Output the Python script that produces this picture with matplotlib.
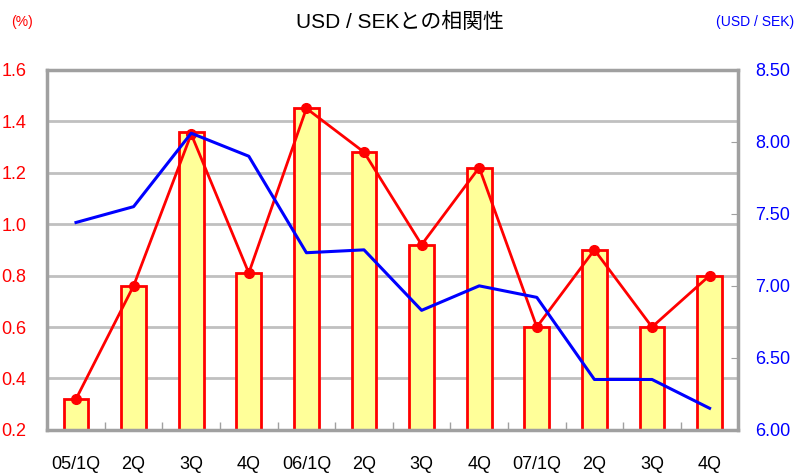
import numpy as np
import matplotlib.pyplot as plt
from matplotlib.ticker import FixedLocator

# ----- Data -----
quarters = ["05/1Q", "2Q", "3Q", "4Q", "06/1Q", "2Q", "3Q", "4Q", "07/1Q", "2Q", "3Q", "4Q"]
bar_pct = [0.32, 0.76, 1.36, 0.81, 1.45, 1.28, 0.92, 1.22, 0.60, 0.90, 0.60, 0.80]
line_pct = [0.32, 0.76, 1.35, 0.81, 1.45, 1.28, 0.92, 1.22, 0.60, 0.90, 0.60, 0.80]
usd_sek = [7.44, 7.55, 8.06, 7.90, 7.23, 7.25, 6.83, 7.00, 6.92, 6.35, 6.35, 6.15]
left_ticks = [0.2, 0.4, 0.6, 0.8, 1.0, 1.2, 1.4, 1.6]
right_ticks = [6.0, 6.5, 7.0, 7.5, 8.0, 8.5]

plt.rcParams['font.family'] = ['Liberation Sans', 'DejaVu Sans']
jp = ['Liberation Sans', 'Noto Sans CJK JP', 'DejaVu Sans']

x = np.arange(len(quarters))

fig = plt.figure(figsize=(8, 4.75), dpi=100)
ax = fig.add_axes([0.059, 0.095, 0.864, 0.758])

ax.bar(x, bar_pct, width=0.43, color='#ffff99', edgecolor='red', linewidth=2, zorder=2)
ax.plot(x, line_pct, color='red', linewidth=2, marker='o', markersize=7, zorder=3)

ax.set_xlim(-0.5, len(quarters) - 0.5)
ax.set_ylim(0.2, 1.6)
ax.set_yticks(left_ticks)
ax.set_yticklabels([f"{v:.1f}" for v in left_ticks], color='red', fontsize=13)
ax.tick_params(axis='y', length=0, pad=15)
ax.yaxis.grid(True, color='#c0c0c0', linewidth=2)
ax.set_axisbelow(True)

ax.set_xticks(x)
ax.set_xticklabels(quarters, fontsize=13)
ax.tick_params(axis='x', which='major', length=0, pad=19)
ax.xaxis.set_minor_locator(FixedLocator(x[:-1] + 0.5))
ax.tick_params(axis='x', which='minor', direction='in', length=6, color='#a0a0a0', width=1)

for s in ax.spines.values():
    s.set_color('#a0a0a0')
    s.set_linewidth(2.5)

ax2 = ax.twinx()
ax2.plot(x, usd_sek, color='blue', linewidth=2.2, zorder=3)
ax2.set_ylim(6.0, 8.5)
ax2.set_yticks(right_ticks)
ax2.set_yticklabels([f"{v:.2f}" for v in right_ticks], color='blue', fontsize=13)
ax2.tick_params(axis='y', direction='in', length=5, color='#a0a0a0', pad=12)
for s in ax2.spines.values():
    s.set_visible(False)

fig.text(0.5, 0.953, "USD / SEKとの相関性", ha='center', va='center', fontsize=15, family=jp)
fig.text(0.028, 0.953, "(%)", ha='center', va='center', fontsize=10, color='red')
fig.text(0.944, 0.953, "(USD / SEK)", ha='center', va='center', fontsize=10, color='blue')

fig.savefig("out.png", dpi=100)
